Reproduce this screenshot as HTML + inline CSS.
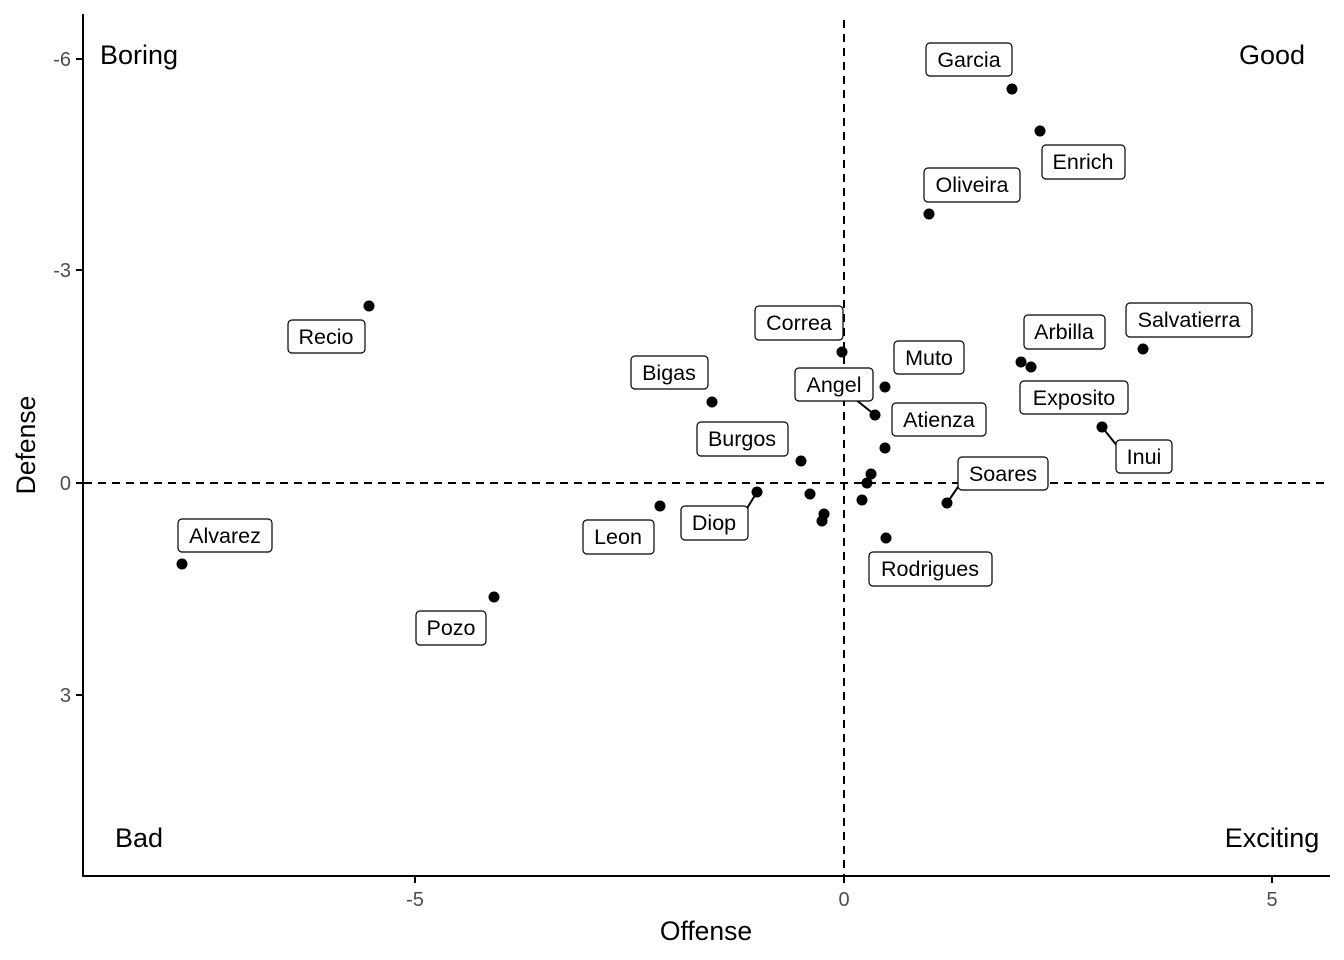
<!DOCTYPE html>
<html><head><meta charset="utf-8"><style>body{margin:0;background:#fff}svg{display:block}text{font-family:"Liberation Sans",Arial,sans-serif}</style></head><body>
<svg width="1344" height="960" viewBox="0 0 1344 960" xmlns="http://www.w3.org/2000/svg">
<rect width="1344" height="960" fill="#fff"/>
<g stroke="#000" stroke-width="2" stroke-dasharray="8,6" fill="none">
<line x1="844" y1="20" x2="844" y2="876"/>
<line x1="84" y1="483" x2="1330" y2="483"/>
</g>
<g stroke="#000" stroke-width="2">
<line x1="83" y1="14" x2="83" y2="877"/>
<line x1="82" y1="876" x2="1330" y2="876"/>
<line x1="76" y1="59" x2="83" y2="59"/><line x1="76" y1="270" x2="83" y2="270"/><line x1="76" y1="483" x2="83" y2="483"/><line x1="76" y1="695" x2="83" y2="695"/>
<line x1="415" y1="876" x2="415" y2="883"/><line x1="844" y1="876" x2="844" y2="883"/><line x1="1272" y1="876" x2="1272" y2="883"/>
</g>
<g font-size="20" fill="#4d4d4d" text-anchor="end">
<text x="71" y="66">-6</text><text x="71" y="277">-3</text><text x="71" y="490">0</text><text x="71" y="702">3</text>
</g>
<g font-size="20" fill="#4d4d4d" text-anchor="middle">
<text x="415" y="906">-5</text><text x="844" y="906">0</text><text x="1272" y="906">5</text>
</g>
<text x="706" y="940" font-size="26.5" text-anchor="middle">Offense</text>
<text transform="translate(35,445) rotate(-90)" font-size="26.5" text-anchor="middle">Defense</text>
<g font-size="27" text-anchor="middle">
<text x="139" y="64">Boring</text><text x="1272" y="64">Good</text><text x="139" y="847">Bad</text><text x="1272" y="847">Exciting</text>
</g>
<g stroke="#000" stroke-width="2">
<line x1="875" y1="415" x2="855" y2="399"/><line x1="1102" y1="427" x2="1118" y2="447"/><line x1="947" y1="503" x2="960" y2="484"/><line x1="757" y1="492" x2="746" y2="510"/>
</g>
<g fill="#000">
<circle cx="1012" cy="89" r="5.5"/><circle cx="1040" cy="131" r="5.5"/><circle cx="929" cy="214" r="5.5"/><circle cx="369" cy="306" r="5.5"/>
<circle cx="842" cy="352" r="5.5"/><circle cx="885" cy="387" r="5.5"/><circle cx="875" cy="415" r="5.5"/><circle cx="712" cy="402" r="5.5"/>
<circle cx="885" cy="448" r="5.5"/><circle cx="801" cy="461" r="5.5"/><circle cx="1021" cy="362" r="5.5"/><circle cx="1031" cy="367" r="5.5"/>
<circle cx="1143" cy="349" r="5.5"/><circle cx="1102" cy="427" r="5.5"/><circle cx="947" cy="503" r="5.5"/><circle cx="886" cy="538" r="5.5"/>
<circle cx="871" cy="474" r="5.5"/><circle cx="867" cy="483" r="5.5"/><circle cx="862" cy="500" r="5.5"/><circle cx="810" cy="494" r="5.5"/>
<circle cx="824" cy="514" r="5.5"/><circle cx="822" cy="521" r="5.5"/><circle cx="757" cy="492" r="5.5"/><circle cx="660" cy="506" r="5.5"/>
<circle cx="182" cy="564" r="5.5"/><circle cx="494" cy="597" r="5.5"/>
</g>
<g fill="#fff" stroke="#000" stroke-width="1.2">
<rect x="926" y="43" width="86" height="33" rx="4"/>
<rect x="1042" y="145" width="83" height="34" rx="4"/>
<rect x="924" y="168" width="96" height="34" rx="4"/>
<rect x="288" y="320" width="77" height="33" rx="4"/>
<rect x="755" y="306" width="88" height="34" rx="4"/>
<rect x="894" y="341" width="70" height="33" rx="4"/>
<rect x="795" y="368" width="78" height="33" rx="4"/>
<rect x="631" y="356" width="77" height="33" rx="4"/>
<rect x="892" y="403" width="94" height="33" rx="4"/>
<rect x="697" y="422" width="91" height="34" rx="4"/>
<rect x="1024" y="315" width="81" height="34" rx="4"/>
<rect x="1126" y="303" width="126" height="34" rx="4"/>
<rect x="1020" y="381" width="108" height="33" rx="4"/>
<rect x="1116" y="440" width="56" height="33" rx="4"/>
<rect x="958" y="457" width="90" height="33" rx="4"/>
<rect x="869" y="552" width="123" height="34" rx="4"/>
<rect x="681" y="506" width="67" height="34" rx="4"/>
<rect x="583" y="520" width="71" height="34" rx="4"/>
<rect x="178" y="519" width="94" height="33" rx="4"/>
<rect x="416" y="611" width="70" height="34" rx="4"/>
</g>
<g font-size="21.5" text-anchor="middle">
<text x="969" y="67">Garcia</text><text x="1083" y="169">Enrich</text><text x="972" y="192">Oliveira</text><text x="326" y="344">Recio</text>
<text x="799" y="330">Correa</text><text x="929" y="365">Muto</text><text x="834" y="392">Angel</text><text x="669" y="380">Bigas</text>
<text x="939" y="427">Atienza</text><text x="742" y="446">Burgos</text><text x="1064" y="339">Arbilla</text><text x="1189" y="327">Salvatierra</text>
<text x="1074" y="405">Exposito</text><text x="1144" y="464">Inui</text><text x="1003" y="481">Soares</text><text x="930" y="576">Rodrigues</text>
<text x="714" y="530">Diop</text><text x="618" y="544">Leon</text><text x="225" y="543">Alvarez</text><text x="451" y="635">Pozo</text>
</g>
</svg>
</body></html>
